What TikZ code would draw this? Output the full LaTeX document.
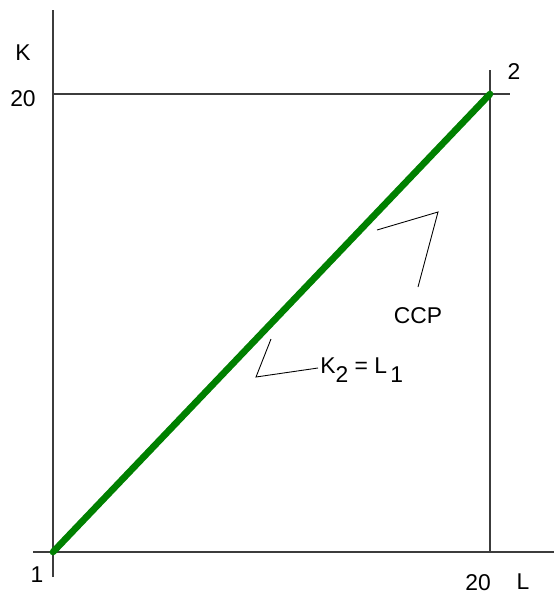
\documentclass[tikz,border=0pt]{standalone}
\usepackage{fontspec}
\setmainfont{Liberation Sans}
\usepackage{xcolor}
\usetikzlibrary{positioning, calc}
\definecolor{ccpgreen}{RGB}{0,128,0}
\definecolor{axisgrey}{RGB}{60,60,60}

\begin{document}
\begin{tikzpicture}[x=0.02cm, y=-0.02cm,
  axis/.style={draw=axisgrey, line width=0.9pt},
  leader/.style={draw=black, line width=0.5pt},
  path/.style={draw=ccpgreen, line width=3.8pt, line cap=round},
  lbl/.style={font=\fontsize{13}{15}\selectfont, inner sep=0pt}
]
\useasboundingbox (0,0) rectangle (554,595);
% corners of the box
\coordinate (o1) at (53,552);
\coordinate (o2) at (490,94);
\coordinate (ytop) at (53,10);
\coordinate (ybot) at (53,577);
\coordinate (xleft) at (33,552);
\coordinate (xright) at (554,552);
\coordinate (ttop) at (490,70);
\coordinate (tright) at (510,94);
\draw[axis] (ybot) -- (ytop);
\draw[axis] (xleft) -- (xright);
\draw[axis] (o1 |- o2) -- (tright);
\draw[axis] (ttop) -- (o2 |- o1);
% contract curve
\draw[path] (o1) -- (o2);
% labels
\node[lbl] (kaxis) at (23,53) {K};
\node[lbl] (k20) at (23,99) {20};
\node[lbl] (one) at (37,575) {1};
\node[lbl] (two) at (514,72) {2};
\node[lbl] (l20) at (478,583) {20};
\node[lbl] (laxis) at (523,582) {L};
\node[lbl] (ccp) at (418,316) {CCP};
\node[lbl, anchor=west] (eq) at (320,370) {K\raisebox{-0.7ex}{2} = L\raisebox{-0.7ex}{\hspace{0.15em}1}};
% leader lines
\coordinate (c1) at (377,230);
\coordinate (c2) at (438,212);
\coordinate (c3) at (418,287);
\coordinate (e1) at (271,339);
\coordinate (e2) at (256,377);
\coordinate (e3) at (318,368);
\draw[leader] (c1) -- (c2) -- (c3);
\draw[leader] (e1) -- (e2) -- (e3);
\end{tikzpicture}
\end{document}
